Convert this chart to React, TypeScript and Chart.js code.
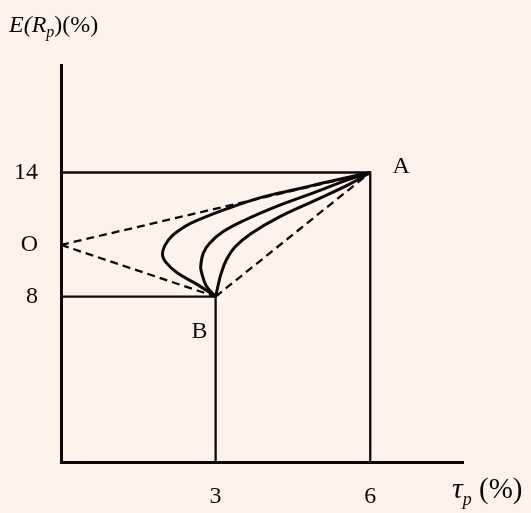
import { useEffect, useRef } from "react";
import { Chart, registerables } from "chart.js";

Chart.register(...registerables);

// Axis ticks (standard deviation %, expected return %)
const sdTicks = [3, 6];
const returnTicks = [8, 14];
const riskFreeRate = 10.5;
const riskFreeLabel = "O";

// The two assets
const assetA = { sd: 6, ret: 14, label: "A" };
const assetB = { sd: 3, ret: 8, label: "B" };

// Portfolio frontiers between B and A for three correlation levels
const frontierLowSd = [3, 2.64, 2.26, 2.05, 1.97, 2.02, 2.17, 2.39, 2.64, 3.21, 3.89, 4.57, 5.25, 6];
const frontierLowRet = [8, 8.59, 9.14, 9.62, 10.01, 10.49, 10.97, 11.37, 11.68, 12.24, 12.8, 13.19, 13.59, 14];
const frontierMidSd = [3, 2.82, 2.73, 2.71, 2.76, 2.88, 3.14, 3.55, 4.22, 4.91, 5.59, 6];
const frontierMidRet = [8, 8.51, 9.14, 9.46, 10.1, 10.57, 11.13, 11.68, 12.4, 13.03, 13.67, 14];
const frontierHighSd = [3, 3.06, 3.11, 3.21, 3.38, 3.69, 4.23, 4.91, 5.59, 6];
const frontierHighRet = [8, 8.67, 9.14, 9.78, 10.41, 11.05, 11.84, 12.63, 13.43, 14];

const INK = "#0d0909";
const SERIF = "'Liberation Serif', 'DejaVu Serif', serif";

const toPoints = (xs: number[], ys: number[]) => xs.map((x, i) => ({ x, y: ys[i] }));

type Run = { text: string; size: number; italic?: boolean; dy?: number };

function drawRuns(ctx: CanvasRenderingContext2D, runs: Run[], x: number, y: number) {
  let cx = x;
  for (const r of runs) {
    ctx.font = `${r.italic ? "italic " : ""}${r.size}px ${SERIF}`;
    ctx.fillText(r.text, cx, y + (r.dy ?? 0));
    cx += ctx.measureText(r.text).width;
  }
}

const paperPlugin = {
  id: "paper",
  beforeDraw(chart: Chart) {
    const ctx = chart.ctx;
    ctx.save();
    ctx.fillStyle = "#fdf3ea";
    ctx.fillRect(0, 0, chart.width, chart.height);
    ctx.restore();
  },
};

const annotationPlugin = {
  id: "annotations",
  afterDatasetsDraw(chart: Chart) {
    const ctx = chart.ctx;
    const xs = chart.scales.x;
    const ys = chart.scales.y;
    ctx.save();
    ctx.fillStyle = INK;
    ctx.textBaseline = "middle";
    ctx.textAlign = "center";
    ctx.font = `24px ${SERIF}`;
    ctx.fillText(assetA.label, xs.getPixelForValue(assetA.sd) + 31, ys.getPixelForValue(assetA.ret) - 6);
    ctx.fillText(assetB.label, xs.getPixelForValue(assetB.sd) - 16, ys.getPixelForValue(assetB.ret) + 35);

    ctx.textAlign = "left";
    ctx.textBaseline = "alphabetic";
    drawRuns(
      ctx,
      [
        { text: "E(R", size: 24, italic: true },
        { text: "p", size: 16, italic: true, dy: 5 },
        { text: ")(%)", size: 24 },
      ],
      9,
      32
    );
    drawRuns(
      ctx,
      [
        { text: "τ", size: 30, italic: true },
        { text: "p", size: 18, italic: true, dy: 7 },
        { text: " (%)", size: 29 },
      ],
      452,
      498
    );
    ctx.restore();
  },
};

export default function App() {
  const canvasRef = useRef<HTMLCanvasElement | null>(null);

  useEffect(() => {
    if (!canvasRef.current) return;

    const solid = (data: { x: number; y: number }[], width: number) => ({
      data,
      showLine: true,
      borderColor: INK,
      borderWidth: width,
      pointRadius: 0,
      tension: 0,
      fill: false,
    });
    const dashed = (data: { x: number; y: number }[]) => ({
      ...solid(data, 2.3),
      borderDash: [8, 5],
    });
    const curve = (data: { x: number; y: number }[]) => ({
      ...solid(data, 3),
      tension: 0.4,
    });

    const chart = new Chart(canvasRef.current, {
      type: "scatter",
      data: {
        datasets: [
          solid(
            [
              { x: 0, y: assetA.ret },
              { x: assetA.sd, y: assetA.ret },
              { x: assetA.sd, y: 0 },
            ],
            2.3
          ),
          solid(
            [
              { x: 0, y: assetB.ret },
              { x: assetB.sd, y: assetB.ret },
              { x: assetB.sd, y: 0 },
            ],
            2.3
          ),
          dashed([
            { x: 0, y: riskFreeRate },
            { x: assetA.sd, y: assetA.ret },
          ]),
          dashed([
            { x: 0, y: riskFreeRate },
            { x: assetB.sd, y: assetB.ret },
          ]),
          dashed([
            { x: assetB.sd, y: assetB.ret },
            { x: assetA.sd, y: assetA.ret },
          ]),
          curve(toPoints(frontierLowSd, frontierLowRet)),
          curve(toPoints(frontierMidSd, frontierMidRet)),
          curve(toPoints(frontierHighSd, frontierHighRet)),
        ],
      },
      options: {
        responsive: false,
        animation: false,
        events: [],
        layout: { padding: { top: 65, right: 68, left: 0, bottom: 0 } },
        plugins: {
          legend: { display: false },
          tooltip: { enabled: false },
        },
        scales: {
          x: {
            type: "linear",
            min: 0,
            max: 7.8,
            grid: { display: false, drawTicks: false },
            border: { display: true, color: INK, width: 3 },
            afterBuildTicks: (scale: any) => {
              scale.ticks = sdTicks.map((v) => ({ value: v }));
            },
            afterFit: (scale: any) => {
              scale.height = 51;
            },
            ticks: {
              color: INK,
              padding: 20,
              font: { family: SERIF, size: 24 },
              callback: (v: any) => String(v),
            },
          },
          y: {
            type: "linear",
            min: 0,
            max: 19.2,
            grid: { display: false, drawTicks: false },
            border: { display: true, color: INK, width: 3 },
            afterBuildTicks: (scale: any) => {
              scale.ticks = [...returnTicks, riskFreeRate]
                .sort((a, b) => a - b)
                .map((v) => ({ value: v }));
            },
            afterFit: (scale: any) => {
              scale.width = 61;
            },
            ticks: {
              color: INK,
              padding: 23,
              font: { family: SERIF, size: 24 },
              callback: (v: any) => (v === riskFreeRate ? riskFreeLabel : String(v)),
            },
          },
        },
      },
      plugins: [paperPlugin, annotationPlugin],
    });

    return () => chart.destroy();
  }, []);

  return (
    <div style={{ position: "fixed", left: 0, top: 0, width: 531, height: 513 }}>
      <canvas ref={canvasRef} width={531} height={513} style={{ width: 531, height: 513, display: "block" }} />
    </div>
  );
}
